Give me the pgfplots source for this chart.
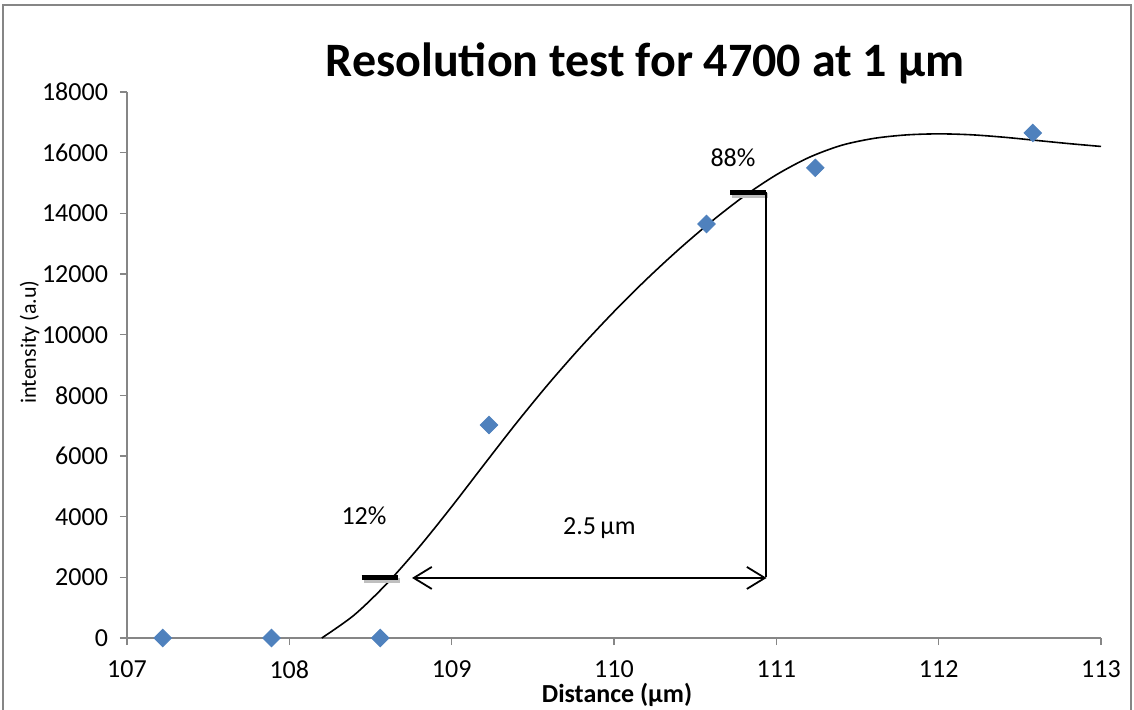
\documentclass[border=0pt]{standalone}
\usepackage{fontspec}
\setmainfont{Carlito}
\usepackage{pgfplots}
\pgfplotsset{compat=1.18}
\usetikzlibrary{arrows.meta}
\definecolor{mk}{HTML}{4F81BD}
\definecolor{ax}{HTML}{868686}

\begin{document}
\begin{tikzpicture}
\useasboundingbox (-63.5pt,-35.5pt) rectangle (503.5pt,319pt);
% chart area border
\draw[ax, line width=0.9pt] (-62pt,-40pt) -- (-62pt,316.5pt) -- (502pt,316.5pt) -- (502pt,-40pt);
\begin{axis}[
    at={(0,0)}, anchor=south west,
    scale only axis,
    width=487pt, height=273pt,
    xmin=107, xmax=113, ymin=0, ymax=18000,
    xtick={107,108,...,113},
    ytick={0,2000,...,18000},
    scaled y ticks=false,
    axis x line*=bottom, axis y line*=left,
    axis line style={ax, line width=0.75pt, -},
    tick style={ax, line width=0.75pt},
    tick align=outside,
    major tick length=3.5pt,
    ticklabel style={font=\fontsize{13}{15}\selectfont},
    yticklabel style={xshift=-2.5pt},
    xticklabel style={inner sep=1pt, yshift=-6.8pt},
    /pgf/number format/assume math mode=true,
    /pgf/number format/1000 sep={},
]
% measured points
\addplot[only marks, mark=square*, mark size=3.1pt,
    mark options={rotate=45, fill=mk, draw=mk}] coordinates {
  (107.22,0) (107.89,0) (108.56,0) (109.23,7020)
  (110.57,13650) (111.24,15500) (112.58,16650)
};
% trend line
\addplot[black, line width=0.8pt, smooth] coordinates {
  (108.2,0) (108.4,760) (108.6,1790) (108.8,3000) (109.0,4330)
  (109.2,5720) (109.4,7095) (109.6,8400) (109.8,9620) (110.0,10760)
  (110.2,11825) (110.4,12815) (110.6,13730) (110.8,14560) (111.0,15270)
  (111.2,15840) (111.4,16240) (111.6,16470) (111.8,16585) (112.0,16620)
  (112.2,16590) (112.4,16510) (112.6,16405) (112.8,16300) (113.0,16205)
};
% 12% / 88% bars with shadow
\draw[line width=2.5pt, black!25] ([xshift=1pt,yshift=-1.5pt]axis cs:108.445,2000) -- ([xshift=1pt,yshift=-1.5pt]axis cs:108.67,2000);
\draw[line width=2.5pt, black!25] ([xshift=1pt,yshift=-1.5pt]axis cs:110.715,14700) -- ([xshift=1pt,yshift=-1.5pt]axis cs:110.936,14700);
\draw[line width=2.5pt] (axis cs:108.445,2000) -- (axis cs:108.67,2000);
\draw[line width=2.5pt] (axis cs:110.715,14700) -- (axis cs:110.936,14700);
\draw[line width=0.8pt] (axis cs:110.936,14700) -- (axis cs:110.936,2000);
\draw[line width=0.9pt, {Straight Barb[length=9pt,width=11pt]}-{Straight Barb[length=9pt,width=11pt]}]
  (axis cs:108.756,1980) -- (axis cs:110.94,1980);
\node[anchor=base, font=\fontsize{13}{15}\selectfont] at (axis cs:108.46,3726) {12\%};
\node[anchor=base, font=\fontsize{13}{15}\selectfont] at (axis cs:110.733,15530) {88\%};
\node[anchor=base, font=\fontsize{13}{15}\selectfont] at (axis cs:109.91,3396) {2.5\,µm};
\end{axis}
% title and axis labels
\node[anchor=base, font=\fontsize{24}{29}\selectfont\bfseries] at (259pt,280.5pt) {Resolution test for 4700 at 1 µm};
\node[anchor=base, inner sep=0.5pt, font=\fontsize{13}{15}\selectfont\bfseries] at (245pt,-32.3pt) {Distance (µm)};
\node[anchor=base, rotate=90, font=\fontsize{11}{13}\selectfont] at (-45.5pt,148pt) {intensity (a.u)};
\end{tikzpicture}
\end{document}
